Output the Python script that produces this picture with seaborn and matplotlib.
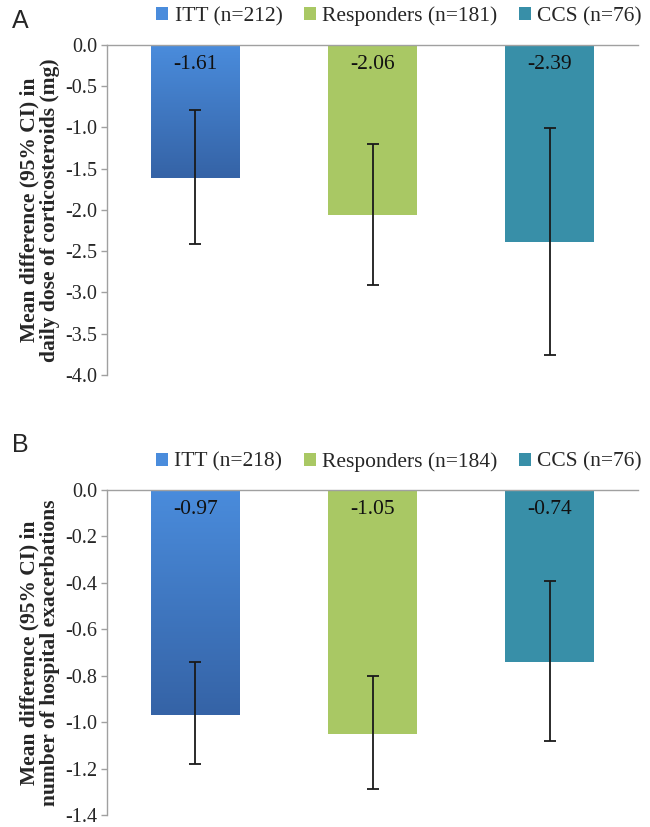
import numpy as np
import pandas as pd
import matplotlib
matplotlib.use("Agg")
import matplotlib.pyplot as plt
from matplotlib.patches import Patch
import seaborn as sns

# ---- data ----
groups = ["ITT", "Responders", "CCS"]
labels_a = ["ITT (n=212)", "Responders (n=181)", "CCS (n=76)"]
labels_b = ["ITT (n=218)", "Responders (n=184)", "CCS (n=76)"]
mean_a = [-1.61, -2.06, -2.39]
ci_hi_a = [-0.79, -1.20, -1.01]
ci_lo_a = [-2.41, -2.91, -3.76]
mean_b = [-0.97, -1.05, -0.74]
ci_hi_b = [-0.74, -0.80, -0.39]
ci_lo_b = [-1.18, -1.29, -1.08]
yticks_a = [0.0, -0.5, -1.0, -1.5, -2.0, -2.5, -3.0, -3.5, -4.0]
yticks_b = [0.0, -0.2, -0.4, -0.6, -0.8, -1.0, -1.2, -1.4]
ylabel_a = "Mean difference (95% CI) in\ndaily dose of corticosteroids (mg)"
ylabel_b = "Mean difference (95% CI) in\nnumber of hospital exacerbations"

colors = {"ITT": "#3f79c6", "Responders": "#a9c864", "CCS": "#388fa8"}
grad_top, grad_bot = "#4a8cdc", "#3563a6"

sns.set_theme(style="white")
plt.rcParams["font.family"] = ["Liberation Serif", "DejaVu Serif"]

fig = plt.figure(figsize=(6.5, 8.27), dpi=100)
ax_a = fig.add_axes([0.1646, 0.5466, 0.817, 0.399])
ax_b = fig.add_axes([0.1646, 0.0145, 0.817, 0.393])


def draw(ax, means, hi, lo, yticks, ylim, ylabel, leglabels, fmt):
    df = pd.DataFrame({"group": groups, "value": means})
    sns.barplot(data=df, x="group", y="value", hue="group", palette=colors,
                width=0.5, ax=ax, legend=False, errorbar=None,
                edgecolor="none", saturation=1)
    # gradient for ITT bar
    p = ax.patches[0]
    x0, y0 = p.get_x(), p.get_y()
    w, h = p.get_width(), p.get_height()
    c1 = np.array(matplotlib.colors.to_rgb(grad_top))
    c2 = np.array(matplotlib.colors.to_rgb(grad_bot))
    t = np.linspace(0, 1, 256)[:, None]
    img = (c1[None, :] * (1 - t) + c2[None, :] * t)[:, None, :]
    ax.imshow(img, extent=[x0, x0 + w, min(y0, y0 + h), max(y0, y0 + h)],
              aspect="auto", origin="upper", zorder=p.get_zorder() + 0.1,
              clip_path=p, clip_on=True)
    # error bars
    xs = np.arange(len(groups))
    m = np.array(means)
    yerr = np.vstack([m - np.array(lo), np.array(hi) - m])
    ax.errorbar(xs, m, yerr=yerr, fmt="none", ecolor="#1a1a1a",
                elinewidth=1.3, capsize=4, capthick=1.3, zorder=5)
    # value labels
    for xi, v in zip(xs, means):
        ax.text(xi, -(ylim[1] - ylim[0]) * 0.06,
                fmt.format(v), ha="center", va="center", fontsize=15.5,
                color="#111111", zorder=6)
    ax.set_ylim(*ylim)
    ax.set_xlim(-0.5, 2.5)
    ax.set_yticks(yticks)
    ax.set_yticklabels([f"{t:.1f}" for t in yticks], fontsize=14.5)
    ax.set_xticks([])
    ax.set_xlabel("")
    ax.set_ylabel(ylabel, fontsize=15.5, fontweight="bold", labelpad=4,
                  linespacing=1.0)
    for s in ["right", "bottom"]:
        ax.spines[s].set_visible(False)
    for s in ["left", "top"]:
        ax.spines[s].set_color("#a0a0a0")
        ax.spines[s].set_linewidth(1.0)
    ax.tick_params(axis="y", which="major", direction="out", length=4,
                   color="#a0a0a0", width=1.0, left=True, pad=3)
    handles = [Patch(facecolor=colors[g] if g != "ITT" else grad_top,
                     edgecolor="none", label=l) for g, l in zip(groups, leglabels)]
    ax.legend(handles=handles, loc="lower center", bbox_to_anchor=(0.55, 1.03),
              ncol=3, frameon=False, fontsize=15.5, handlelength=0.55,
              handleheight=0.55, handletextpad=0.3, columnspacing=1.0,
              borderaxespad=0)


draw(ax_a, mean_a, ci_hi_a, ci_lo_a, yticks_a, (-4.0, 0.0), ylabel_a,
     labels_a, "{:.2f}")
draw(ax_b, mean_b, ci_hi_b, ci_lo_b, yticks_b, (-1.4, 0.0), ylabel_b,
     labels_b, "{:.2f}")

fig.text(0.018, 0.975, "A", fontsize=18, family=["Liberation Sans"],
         ha="left", va="center")
fig.text(0.018, 0.462, "B", fontsize=18, family=["Liberation Sans"],
         ha="left", va="center")

fig.savefig("out.png", dpi=100)
